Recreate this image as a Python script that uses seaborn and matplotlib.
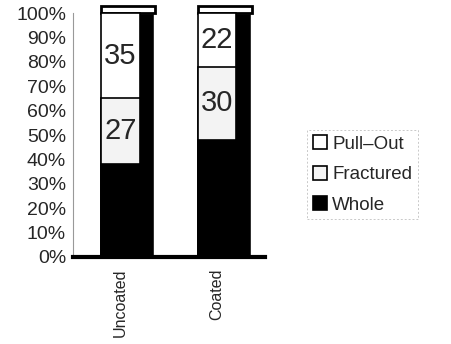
import matplotlib
matplotlib.use("Agg")
import matplotlib.pyplot as plt
import seaborn as sns
import pandas as pd
import numpy as np
from matplotlib.patches import Patch

categories = ["Uncoated", "Coated"]
whole = [38, 48]
fractured = [27, 30]
pull_out = [35, 22]
series_names = ["Pull\u2013Out", "Fractured", "Whole"]
ytick_labels = ["0%", "10%", "20%", "30%", "40%", "50%", "60%", "70%", "80%", "90%", "100%"]

sns.set_style("white")
plt.rcParams['font.family'] = ['Liberation Sans', 'DejaVu Sans']

fig = plt.figure(figsize=(4.51, 3.44), dpi=100)
ax = fig.add_axes([0.162, 0.253, 0.426, 0.709])

w = np.array(whole)
f = np.array(fractured)
p = np.array(pull_out)
df = pd.DataFrame({
    "cat": categories,
    "total": w + f + p,
    "wf": w + f,
    "w": w,
})

xpos = np.arange(len(categories))
bw = 0.4
depth = 0.16
# 3D side faces and top faces
ax.bar(xpos + bw / 2 + depth / 2 - 0.02, df["total"], width=depth + 0.02,
       color="black", zorder=1, clip_on=False)
ax.bar(xpos + depth / 2, [3.0] * len(xpos), width=bw + depth, bottom=df["total"],
       color="white", edgecolor="black", linewidth=2, zorder=1, clip_on=False)

sns.barplot(data=df, x="cat", y="total", color="white", width=bw,
            edgecolor="black", linewidth=1.2, ax=ax, zorder=3, saturation=1)
sns.barplot(data=df, x="cat", y="wf", color="#f3f3f3", width=bw,
            edgecolor="black", linewidth=1.2, ax=ax, zorder=3, saturation=1)
sns.barplot(data=df, x="cat", y="w", color="black", width=bw,
            edgecolor="black", linewidth=1.2, ax=ax, zorder=3, saturation=1)
for patch in ax.patches:
    patch.set_clip_on(False)

for i in range(len(categories)):
    ax.text(i, w[i] + f[i] / 2, str(f[i]), ha="center", va="center",
            fontsize=21, zorder=5)
    ax.text(i, w[i] + f[i] + p[i] / 2, str(p[i]), ha="center", va="center",
            fontsize=21, zorder=5)

ax.set_xlim(-0.49, 1.5)
ax.set_ylim(0, 100)
ax.set_yticks(np.arange(0, 101, 10))
ax.set_yticklabels(ytick_labels, fontsize=14)
ax.set_xticks(xpos)
ax.set_xticklabels(categories, rotation=90, fontsize=11.5)
ax.set_xlabel("")
ax.set_ylabel("")
ax.tick_params(axis="y", length=3, width=0.6, color="#888888", pad=2, direction="out")
ax.tick_params(axis="x", length=0, pad=8)

for s in ["top", "right"]:
    ax.spines[s].set_visible(False)
ax.spines["left"].set_color("#999999")
ax.spines["left"].set_linestyle((0, (2, 1)))
ax.spines["left"].set_linewidth(0.8)
ax.spines["bottom"].set_color("black")
ax.spines["bottom"].set_linewidth(3)

handles = [Patch(facecolor="white", edgecolor="black", linewidth=1.2),
           Patch(facecolor="#f3f3f3", edgecolor="black", linewidth=1.2),
           Patch(facecolor="black", edgecolor="black", linewidth=1.2)]
leg = fig.legend(handles, series_names, loc="upper left",
                 bbox_to_anchor=(0.66, 0.65), frameon=True, fontsize=13.5,
                 handlelength=0.75, handleheight=0.75, handletextpad=0.3,
                 labelspacing=0.7, borderpad=0.3, fancybox=False)
leg.get_frame().set_edgecolor("#bbbbbb")
leg.get_frame().set_linestyle((0, (2, 2)))
leg.get_frame().set_linewidth(0.7)

fig.savefig("out.png", dpi=100)
